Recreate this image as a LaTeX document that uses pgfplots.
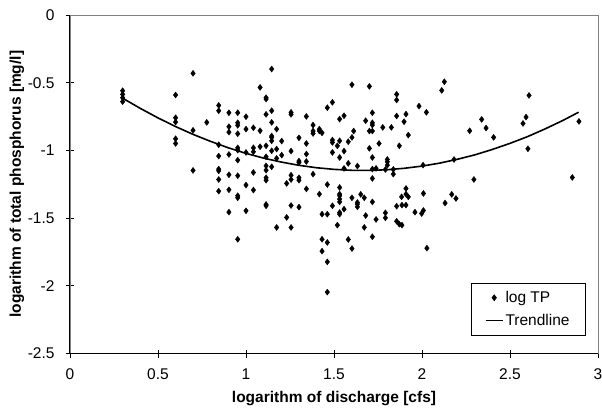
\documentclass[border=0pt]{standalone}
\usepackage{fontspec}
\setmainfont{Liberation Sans}
\usepackage{pgfplots}
\usepackage{pgfplotstable}
\pgfplotsset{compat=1.18}
\pgfplotstableread{
x y
0.299 -0.559
0.299 -0.586
0.299 -0.611
0.299 -0.640
0.600 -0.591
0.600 -0.759
0.600 -0.791
0.600 -0.914
0.600 -0.949
0.699 -0.431
0.699 -0.852
0.699 -1.148
0.777 -0.793
0.845 -0.668
0.845 -0.707
0.845 -0.958
0.845 -1.042
0.845 -1.138
0.845 -1.151
0.845 -1.215
0.845 -1.301
0.903 -0.722
0.903 -0.825
0.903 -0.865
0.903 -1.030
0.903 -1.180
0.903 -1.291
0.903 -1.456
0.953 -0.722
0.953 -0.796
0.953 -0.815
0.953 -0.877
0.953 -0.981
0.953 -0.998
0.953 -1.072
0.953 -1.187
0.953 -1.335
0.953 -1.350
0.953 -1.656
1.000 -0.751
1.000 -0.843
1.000 -1.015
1.000 -1.256
1.000 -1.446
1.042 -0.833
1.042 -0.981
1.042 -1.010
1.042 -1.163
1.042 -1.293
1.080 -0.535
1.080 -0.855
1.080 -0.973
1.114 -0.611
1.114 -0.621
1.114 -0.734
1.114 -0.966
1.114 -1.047
1.114 -1.114
1.114 -1.146
1.114 -1.202
1.114 -1.220
1.114 -1.399
1.114 -1.409
1.146 -0.399
1.146 -0.707
1.146 -0.793
1.146 -0.894
1.146 -0.904
1.146 -0.929
1.146 -1.003
1.146 -1.121
1.174 -0.843
1.174 -0.990
1.174 -1.059
1.174 -1.569
1.203 -0.931
1.203 -1.035
1.231 -1.244
1.231 -1.495
1.256 -0.719
1.256 -0.734
1.256 -1.005
1.256 -1.183
1.256 -1.215
1.256 -1.407
1.256 -1.569
1.301 -0.907
1.301 -1.079
1.301 -1.089
1.301 -1.202
1.301 -1.220
1.301 -1.419
1.343 -0.749
1.343 -0.949
1.343 -1.027
1.343 -1.082
1.343 -1.284
1.381 -0.813
1.381 -0.857
1.381 -0.875
1.381 -1.175
1.417 -0.843
1.417 -0.857
1.417 -1.323
1.432 -0.870
1.432 -1.471
1.432 -1.656
1.432 -1.744
1.462 -0.685
1.462 -1.252
1.462 -1.471
1.462 -1.680
1.462 -1.823
1.462 -2.047
1.491 -0.645
1.491 -0.924
1.491 -0.941
1.491 -1.015
1.491 -1.409
1.519 -0.966
1.519 -1.552
1.532 -0.769
1.532 -0.929
1.532 -1.052
1.532 -1.274
1.532 -1.323
1.532 -1.335
1.532 -1.360
1.532 -1.380
1.532 -1.459
1.532 -1.471
1.557 -0.744
1.557 -1.005
1.557 -1.133
1.557 -1.434
1.581 -0.936
1.581 -1.096
1.581 -1.658
1.602 -0.515
1.602 -0.904
1.602 -1.350
1.602 -1.725
1.612 -0.857
1.633 -1.116
1.633 -1.385
1.633 -1.397
1.633 -1.417
1.652 -1.325
1.672 -1.350
1.672 -1.569
1.680 -0.781
1.680 -1.481
1.701 -0.527
1.701 -0.857
1.701 -0.985
1.718 -0.722
1.718 -0.796
1.718 -0.813
1.718 -0.857
1.718 -1.052
1.718 -1.138
1.718 -1.207
1.718 -1.380
1.718 -1.638
1.739 -1.133
1.739 -1.510
1.756 -0.949
1.777 -0.830
1.792 -1.141
1.792 -1.461
1.792 -1.498
1.803 -1.067
1.803 -1.084
1.803 -1.109
1.826 -0.830
1.837 -1.141
1.837 -1.175
1.856 -0.586
1.856 -0.628
1.856 -0.746
1.856 -1.412
1.856 -1.523
1.871 -0.966
1.871 -1.545
1.886 -1.404
1.886 -1.552
1.884 -1.343
1.898 -0.788
1.909 -0.732
1.909 -1.281
1.909 -1.323
1.909 -1.404
1.922 -0.887
1.922 -1.343
1.960 -1.456
1.998 -1.466
2.008 -1.444
2.008 -1.318
1.983 -0.673
2.025 -0.719
2.006 -1.109
2.028 -1.722
2.112 -0.557
2.127 -0.493
2.131 -1.389
2.169 -1.325
2.193 -1.355
2.182 -1.067
2.271 -0.855
2.295 -1.215
2.339 -0.771
2.364 -0.835
2.407 -0.904
2.574 -0.801
2.591 -0.754
2.608 -0.594
2.602 -0.988
2.854 -1.200
2.892 -0.786
}\tpdata
\pgfplotstableread{
x y
0.30 -0.615
0.40 -0.690
0.50 -0.760
0.60 -0.824
0.70 -0.882
0.80 -0.934
0.90 -0.981
1.00 -1.022
1.10 -1.057
1.20 -1.086
1.30 -1.110
1.40 -1.128
1.50 -1.140
1.60 -1.147
1.70 -1.148
1.80 -1.143
1.90 -1.132
2.00 -1.116
2.10 -1.094
2.20 -1.066
2.30 -1.033
2.40 -0.993
2.50 -0.948
2.60 -0.898
2.70 -0.841
2.80 -0.779
2.89 -0.718
}\trend
\begin{document}
\begin{tikzpicture}
\useasboundingbox (-70bp,-55.5bp) rectangle (532bp,353.5bp);
\begin{axis}[
  scale only axis,
  width=528bp, height=338.5bp,
  xmin=0, xmax=3, ymin=-2.5, ymax=0,
  xtick={0,0.5,1,1.5,2,2.5,3},
  ytick={-2.5,-2,-1.5,-1,-0.5,0},
  xticklabels={0,0.5,1,1.5,2,2.5,3},
  yticklabels={-2.5,-2,-1.5,-1,-0.5,0},
  tick align=center, xtick pos=bottom, ytick pos=left,
  major tick length=8bp,
  tick style={black, line width=0.8bp},
  axis line style={draw=gray, line width=0.8bp},
  tick label style={font=\fontsize{15.5bp}{18bp}\selectfont},
  xticklabel style={yshift=-8bp},
  yticklabel style={xshift=-8bp},
  label style={font=\fontsize{15.5bp}{18bp}\selectfont\bfseries},
  xlabel={logarithm of discharge [cfs]},
  ylabel={logarithm of total phosphorus [mg/l]},
  xlabel style={at={(axis description cs:0.5,-0.1329)}, anchor=center},
  ylabel style={at={(axis description cs:-0.1004,0.5)}, anchor=center},
  legend style={at={(0.977,0.208)}, anchor=north east, draw=black, line width=0.6bp,
    font=\fontsize{15.5bp}{18bp}\selectfont, inner xsep=14bp, inner ysep=6bp, row sep=6bp},
  legend cell align=left,
  clip=false,
]
\addplot[only marks, mark=diamond*, mark size=3bp, black] table[x=x,y=y] {\tpdata};
\addlegendentry{log TP}
\addplot[black, line width=1.6bp, no marks] table[x=x,y=y] {\trend};
\addlegendentry{Trendline}
\draw[black, line width=1bp] (rel axis cs:0,1) -- (rel axis cs:0,0) -- (rel axis cs:1,0);
\end{axis}
\end{tikzpicture}
\end{document}
